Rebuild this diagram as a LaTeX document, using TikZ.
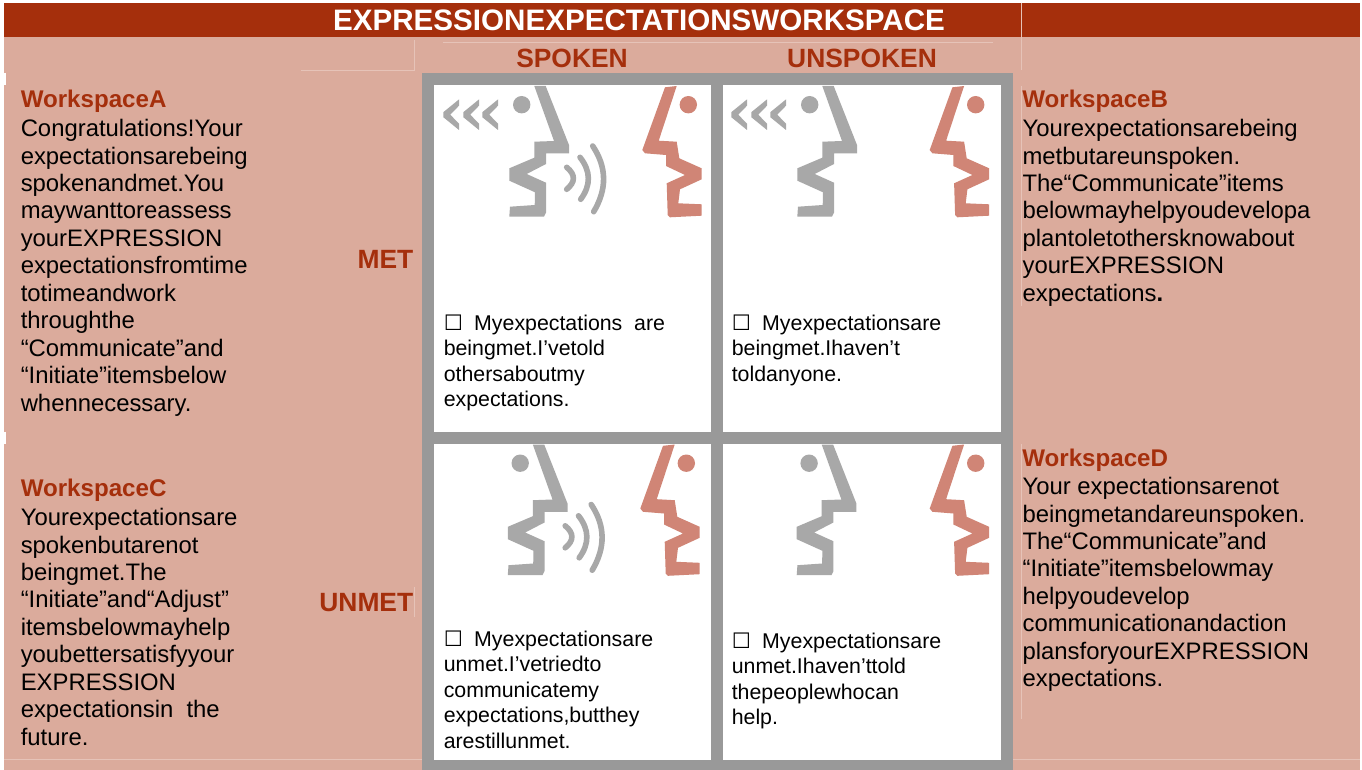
\documentclass[tikz,border=0pt]{standalone}
\usepackage{fontspec}
\setmainfont{Liberation Sans}
\newfontfamily\symb{DejaVu Sans}
\definecolor{bar}{HTML}{A52F0C}
\definecolor{panel}{HTML}{DBAB9C}
\definecolor{frame}{HTML}{999999}
\definecolor{headg}{HTML}{A8A8A8}
\definecolor{headr}{HTML}{D08576}
\definecolor{hair}{HTML}{E6C3B8}
\tikzset{
 px/.style={x=0.75pt,y=-0.75pt},
 head/.style={font=\bfseries\fontsize{18.1}{20}\selectfont,text=bar,inner sep=0,anchor=base west},
 axis/.style={font=\bfseries\fontsize{19.8}{23}\selectfont,text=bar,inner sep=0},
 body/.style={font=\fontsize{17.9}{20.6}\selectfont,inner sep=0,anchor=north west,align=left,yshift=12pt},
 cell/.style={font=\fontsize{16}{19.1}\selectfont,inner sep=0,anchor=north west,align=left,yshift=12pt},
 hairline/.style={hair,line width=0.5pt},
 wave/.style={headg,line width=4.2pt,line cap=round},
}
\newcommand{\strt}{\rule{0pt}{12pt}}
\newcommand{\boxmark}{{\symb ☐}\hspace{0.53em}}
\newcommand{\facegrey}[2]{\begin{scope}[shift={(#1,#2)}]
 \fill[headg] (114.3,16) -- (125.7,16) -- (149,75) -- (149,83.3) -- (126,83.3) -- (126,94) -- (106.7,104) -- (126,112.7) -- (126,142.7) -- (124,146.7) -- (89.3,146.7) -- (90,136.7) -- (114.7,135) -- (115,122.3) -- (89.3,110.7) -- (89.3,98.3) -- (114.3,87.7) -- (114.3,71.7) -- (134,71) -- cycle;
 \fill[headg] (101.7,34.7) circle (8.7);
 \end{scope}}
\newcommand{\facered}[2]{\begin{scope}[shift={(#1,#2)}]
 \fill[headr] (245,17.3) -- (256.7,16) -- (238.7,70.7) -- (256.7,71.7) -- (259.3,88.3) -- (281.7,98.3) -- (281.7,109.3) -- (260,119.3) -- (258.3,133.3) -- (281.7,134.3) -- (281.7,145.7) -- (250,147.3) -- (247.7,145) -- (246.7,113.3) -- (265,105) -- (246,96) -- (246,85) -- (225,83.3) -- (222.3,80) -- cycle;
 \fill[headr] (268.3,34.7) circle (8.7);
 \end{scope}}
\newcommand{\chev}[2]{\fill[headg] (#1,#2) ++(0,-2.5) -- ++(15.7,-12.8) -- ++(0,6.3) -- ++(-8.7,9) -- ++(8.7,9) -- ++(0,6.3) -- ++(-15.7,-12.8) -- cycle;}
\newcommand{\waves}[2]{\begin{scope}[shift={(#1,#2)}]
 \draw[wave] (146.7,97.3) .. controls (155.6,104.6) and (155.6,112) .. (146.7,119.3);
 \draw[wave] (160,87.3) .. controls (170.9,101.1) and (171.1,115.2) .. (160.7,129.3);
 \draw[wave] (172.7,76) .. controls (186.9,97.3) and (187.2,119) .. (173.7,141.7);
 \end{scope}}
\begin{document}
\begin{tikzpicture}[px]
\useasboundingbox (0,0) rectangle (1362,770);
\fill[panel] (4,3) rectangle (1360,770);
\fill[bar] (4,3) rectangle (1360,37);
\fill[white] (4,73) rectangle (6,85);
\fill[white] (4,432) rectangle (6,444);
\coordinate (h1) at (301,70.5);
\coordinate (h2) at (414.5,70.5);
\coordinate (h3) at (414.5,40);
\draw[hairline] (h1) -- (h2) -- (h3);
\coordinate (h4) at (443,42.3);
\coordinate (h5) at (993,42.3);
\draw[hairline] (h4) -- (h5);
\coordinate (h6) at (1021.5,3);
\coordinate (h7) at (1021.5,70);
\draw[hairline] (h6) -- (h7);
\coordinate (h8) at (1021.5,444);
\coordinate (h9) at (1021.5,719);
\draw[hairline] (h8) -- (h9);
\coordinate (h16) at (1021.5,86);
\coordinate (h17) at (1021.5,306);
\draw[hairline] (h16) -- (h17);
\coordinate (h10) at (4,759.5);
\coordinate (h11) at (422,759.5);
\draw[hairline] (h10) -- (h11);
\coordinate (h12) at (1013,759.5);
\coordinate (h13) at (1360,759.5);
\draw[hairline] (h12) -- (h13);
\coordinate (h14) at (414.5,587);
\coordinate (h15) at (414.5,617);
\draw[hairline] (h14) -- (h15);
\node[font=\bfseries\fontsize{22.2}{26}\selectfont,text=white,inner sep=0] (title) at (639,20) {EXPRESSIONEXPECTATIONSWORKSPACE};
\node[axis] (spoken) at (572,58) {SPOKEN};
\node[axis] (unspoken) at (862,58) {UNSPOKEN};
\node[axis,anchor=east] (met) at (413.5,259) {MET};
\node[axis,anchor=east] (unmet) at (413.5,602.5) {UNMET};
\fill[frame] (422,73) rectangle (1013,770);
\fill[white] (434,85) rectangle (711,432);
\fill[white] (723,85) rectangle (1001,432);
\fill[white] (434,444) rectangle (711,760);
\fill[white] (723,444) rectangle (1001,760);
\facegrey{420}{70}\facered{420}{70}\waves{420}{70}
\facegrey{708}{70}\facered{707.4}{70}
\facegrey{418.5}{428.5}\facered{418}{428.5}\waves{418.5}{428.5}
\facegrey{707.4}{428.5}\facered{707.4}{428.5}
\chev{443.3}{114.7}\chev{463.3}{114.7}\chev{482.3}{114.7}
\chev{731.3}{114.7}\chev{751.3}{114.7}\chev{770.3}{114.7}
\node[head] (wa) at (20.5,107.5) {WorkspaceA};
\node[body] (ta) at (20.5,135) {\strt Congratulations!Your\\expectationsarebeing\\spokenandmet.You\\maywanttoreassess\\yourEXPRESSION\\expectationsfromtime\\totimeandwork\\throughthe\\“Communicate”and\\“Initiate”itemsbelow\\whennecessary.};
\node[head] (wb) at (1022,107.5) {WorkspaceB};
\node[body] (tb) at (1022.3,135) {\strt Yourexpectationsarebeing\\metbutareunspoken.\\The“Communicate”items\\belowmayhelpyoudevelopa\\plantoletothersknowabout\\yourEXPRESSION\\expectations\textbf{.}};
\node[head] (wc) at (20.5,496) {WorkspaceC};
\node[body] (tc) at (20.5,524) {\strt Yourexpectationsare\\spokenbutarenot\\beingmet.The\\“Initiate”and“Adjust”\\itemsbelowmayhelp\\youbettersatisfyyour\\EXPRESSION\\expectationsin\ \ the\\future.};
\node[head] (wd) at (1022,466) {WorkspaceD};
\node[body] (td) at (1022.3,493) {\strt Your expectationsarenot\\beingmetandareunspoken.\\The“Communicate”and\\“Initiate”itemsbelowmay\\helpyoudevelop\\communicationandaction\\plansforyourEXPRESSION\\expectations.};
\node[cell] (c1) at (443.5,330) {\strt\boxmark Myexpectations\ \ are\\beingmet.I’vetold\\othersaboutmy\\expectations.};
\node[cell] (c2) at (731.5,330) {\strt\boxmark Myexpectationsare\\beingmet.Ihaven’t\\toldanyone.};
\node[cell] (c3) at (443.5,646) {\strt\boxmark Myexpectationsare\\unmet.I’vetriedto\\communicatemy\\expectations,butthey\\arestillunmet.};
\node[cell] (c4) at (731.5,648) {\strt\boxmark Myexpectationsare\\unmet.Ihaven’ttold\\thepeoplewhocan\\help.};
\end{tikzpicture}
\end{document}
